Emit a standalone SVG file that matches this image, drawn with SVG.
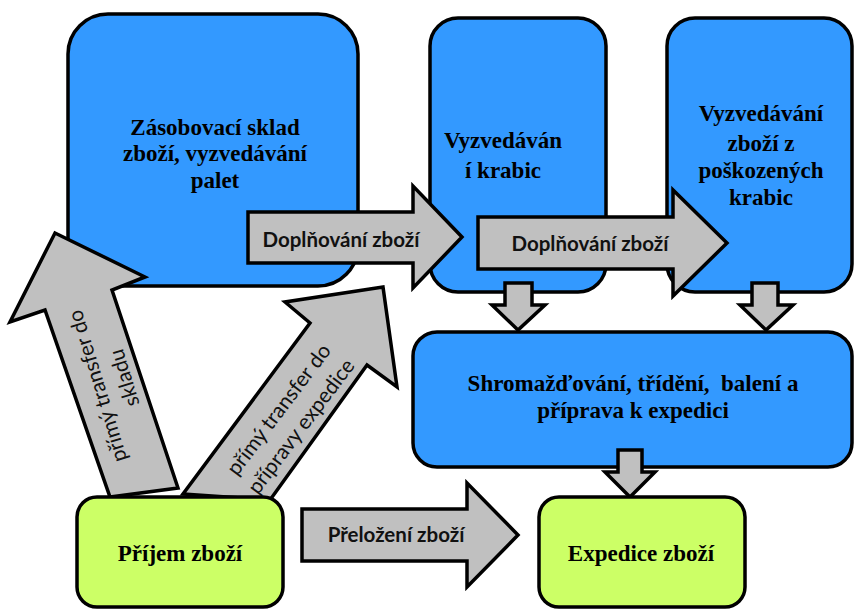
<svg xmlns="http://www.w3.org/2000/svg" width="854" height="609" viewBox="0 0 854 609">
  <style>
    .blue { fill: #3399ff; stroke: #000; stroke-width: 3.5; }
    .green { fill: #ccff66; stroke: #000; stroke-width: 3.5; }
    .arrow { fill: #c0c0c0; stroke: #000; stroke-width: 3.5; stroke-linejoin: miter; }
    .title { font-family: "Liberation Serif", "Times New Roman", serif; font-weight: bold; font-size: 23px; fill: #000; text-anchor: middle; }
    .lbl { font-family: Lato, "Liberation Sans", sans-serif; font-weight: bold; font-size: 20.5px; fill: #111; text-anchor: middle; }
    .diag { font-family: Lato, "Liberation Sans", sans-serif; font-size: 21px; fill: #111; text-anchor: middle; }
  </style>
  <rect width="854" height="609" fill="#fff"/>

  <!-- storage / picking areas -->
  <g id="zasobovaci-sklad">
    <rect class="blue" x="68" y="14" width="290" height="272" rx="40" ry="40"/>
    <text class="title" x="215" y="135">Zásobovací sklad</text>
    <text class="title" x="215" y="161">zboží, vyzvedávání</text>
    <text class="title" x="215" y="188">palet</text>
  </g>
  <g id="vyzvedavani-krabic">
    <rect class="blue" x="430" y="18" width="176" height="274" rx="28" ry="28"/>
    <text class="title" x="503" y="148">Vyzvedáván</text>
    <text class="title" x="503" y="178">í krabic</text>
  </g>
  <g id="vyzvedavani-poskozenych">
    <rect class="blue" x="667" y="18" width="185" height="274" rx="28" ry="28"/>
    <text class="title" x="761" y="121">Vyzvedávání</text>
    <text class="title" x="761" y="151">zboží z</text>
    <text class="title" x="761" y="178">poškozených</text>
    <text class="title" x="761" y="205">krabic</text>
  </g>
  <g id="shromazdovani">
    <rect class="blue" x="413" y="332" width="439" height="135" rx="24" ry="24"/>
    <text class="title" x="633" y="391" xml:space="preserve">Shromažďování, třídění,  balení a</text>
    <text class="title" x="633" y="418">příprava k expedici</text>
  </g>

  <!-- flows between areas -->
  <g id="connectors">
    <polygon class="arrow" points="248,212 413,212 413,186 462,237 413,288 413,263 248,263"/>
    <text class="lbl" x="341" y="247">Doplňování zboží</text>

    <polygon class="arrow" points="478,217 673,217 673,190 727,243 673,296 673,269 478,269"/>
    <text class="lbl" x="590" y="251">Doplňování zboží</text>

    <polygon class="arrow" points="505,283 532,283 532,305 545,305 518,330 492,305 505,305"/>
    <polygon class="arrow" points="752,283 778,283 778,305 793,305 766,330 740,305 752,305"/>
    <polygon class="arrow" points="618,450 642,450 642,472 655,472 630,497 605,472 618,472"/>

    <polygon class="arrow" points="302,509 467,509 467,483 518,535 467,587 467,561 302,561"/>
    <text class="lbl" x="396" y="542">Přeložení zboží</text>

    <polygon class="arrow" points="55,233 145,277 112,290 178,488 110,497 45,310 10,322"/>
    <g transform="translate(111,382) rotate(-107)">
      <text class="diag" x="0" y="-7">přímý transfer do</text>
      <text class="diag" x="0" y="21">skladu</text>
    </g>

    <polygon class="arrow" points="383,287 397,387 367,365 270,500 183,494 310,323 285,302"/>
    <g transform="translate(290,418) rotate(-53)">
      <text class="diag" x="0" y="-7">přímý transfer do</text>
      <text class="diag" x="0" y="21">přípravy expedice</text>
    </g>
  </g>

  <!-- receiving and dispatch -->
  <g id="prijem-zbozi">
    <rect class="green" x="77" y="497" width="206" height="110" rx="20" ry="20"/>
    <text class="title" x="180" y="561">Příjem zboží</text>
  </g>
  <g id="expedice-zbozi">
    <rect class="green" x="539" y="497" width="206" height="110" rx="20" ry="20"/>
    <text class="title" x="641" y="561">Expedice zboží</text>
  </g>
</svg>
